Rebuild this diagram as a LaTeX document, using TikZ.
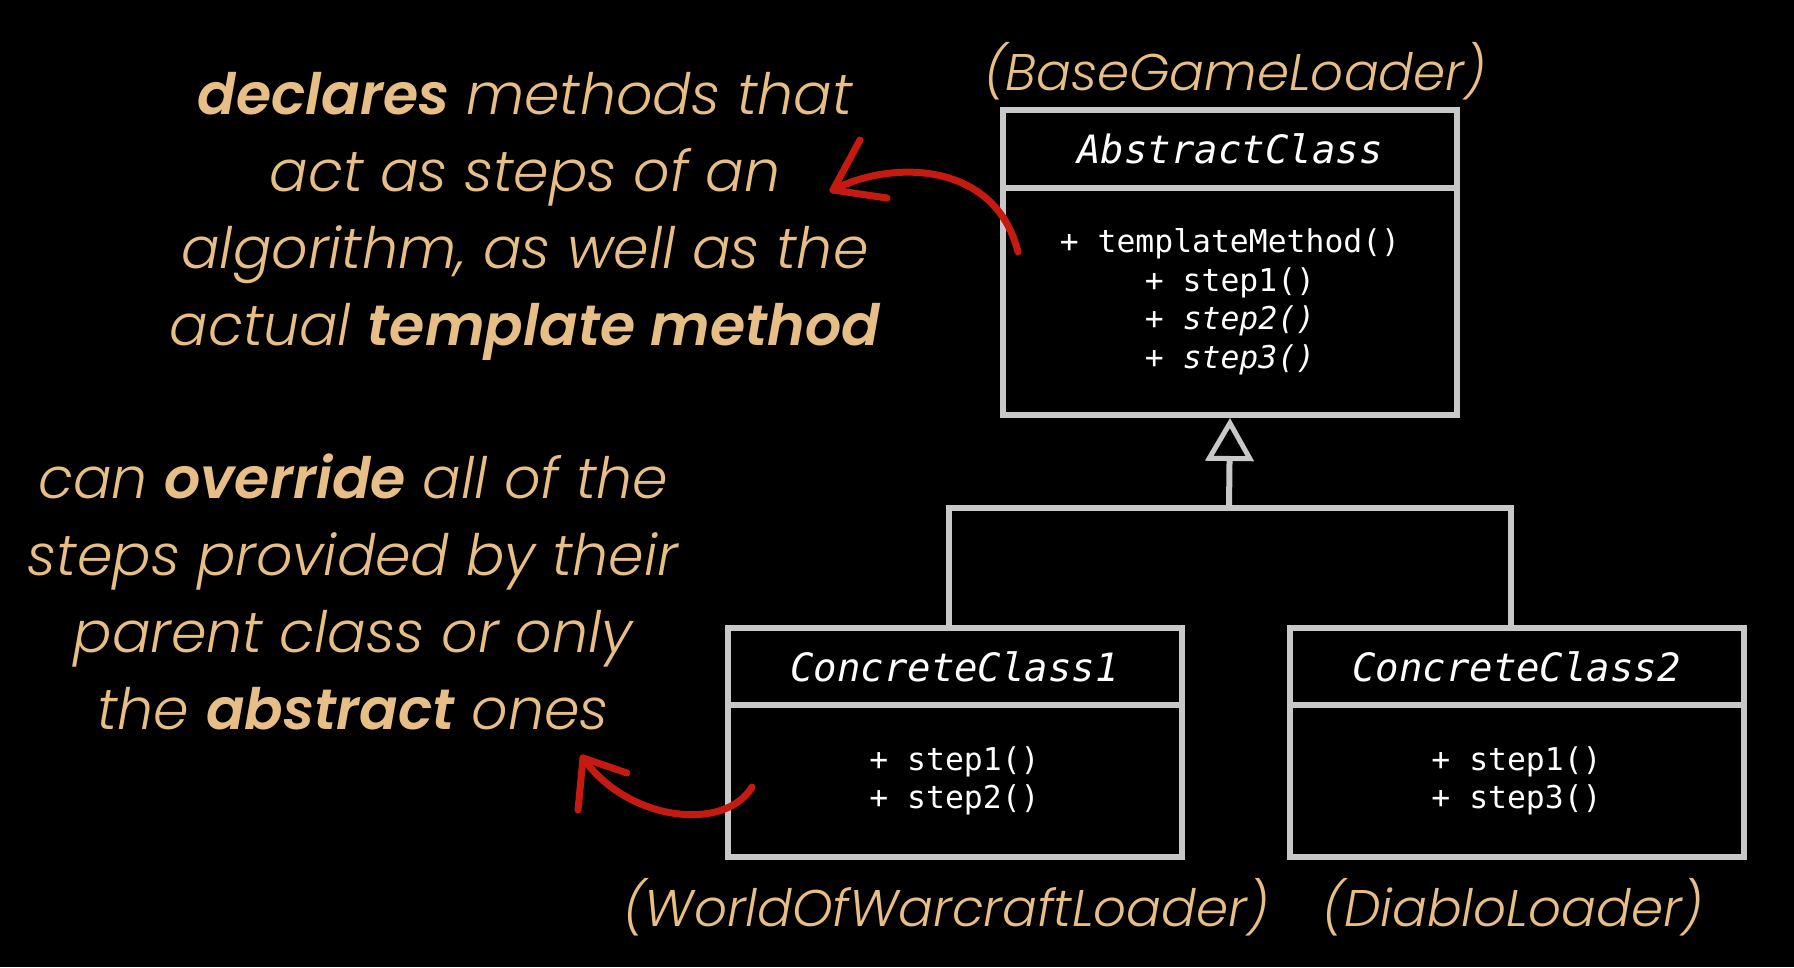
\documentclass[tikz,border=0pt]{standalone}
\usepackage{fontspec}
\usetikzlibrary{arrows.meta}
\newfontfamily\tanfont{Poppins}[UprightFont=* Light, ItalicFont=* Light Italic, BoldFont=* SemiBold, BoldItalicFont=* SemiBold Italic]
\newfontfamily\umlmono{DejaVu Sans Mono}
\definecolor{bgblack}{HTML}{000000}
\definecolor{umlgrey}{HTML}{C8C8C8}
\definecolor{tan}{HTML}{E8BE87}
\definecolor{pen}{HTML}{C41A10}
\begin{document}
\begin{tikzpicture}[x=1pt,y=-1pt,
  boxpart/.style={draw=umlgrey, line width=6pt, minimum width=454pt, inner sep=0pt, text=white},
  titlepart/.style={boxpart, font=\umlmono\itshape\fontsize{39}{39}\selectfont},
  bodypart/.style={boxpart, align=center, font=\umlmono\fontsize{31.4}{38.5}\selectfont},
  note/.style={text=tan, align=center, inner sep=0pt, font=\tanfont\itshape\fontsize{57}{77}\selectfont},
  label/.style={text=tan, inner sep=0pt, font=\tanfont\itshape\fontsize{51.5}{51.5}\selectfont},
  conn/.style={draw=umlgrey, line width=6pt},
  redpen/.style={draw=pen, line width=7pt, line cap=round, line join=round}]
\fill[bgblack] (0,0) rectangle (1794,967);
\useasboundingbox (0,0) rectangle (1794,967);

% Abstract class
\node[titlepart, minimum height=78pt] (abst) at (1230,149) {AbstractClass};
\node[bodypart, minimum height=227pt] (absb) at (1230,301.5)
  {+ templateMethod()\\+ step1()\\+ \textit{step2()}\\+ \textit{step3()}};

% Concrete classes
\node[titlepart, minimum height=77pt] (c1t) at (954.5,666.5) {ConcreteClass1};
\node[bodypart, minimum height=152pt] (c1b) at (954.5,781) {+ step1()\\+ step2()};
\node[titlepart, minimum height=77pt] (c2t) at (1516.5,666.5) {ConcreteClass2};
\node[bodypart, minimum height=152pt] (c2b) at (1516.5,781) {+ step1()\\+ step3()};

% Inheritance
\coordinate (joint) at (1229,508);
\coordinate (c1top) at ([xshift=-6pt]c1t.north);
\coordinate (c2top) at ([xshift=-6pt]c2t.north);
\draw[conn] (c1top) |- (joint) -| (c2top);
\draw[conn, -{Triangle[open, length=43pt, width=48pt, line width=5pt]}] (joint) -- (absb.south);

% Labels
\node[label] (lbase) at (1235,71) {(BaseGameLoader)};
\node[label] (lwow) at (946,907) {(WorldOfWarcraftLoader)};
\node[label] (ldia) at (1513,907) {(DiabloLoader)};

% Notes
\node[note] (n1) at (525,216) {\textbf{declares} methods that\\act as steps of an\\algorithm, as well as the\\actual \textbf{template method}};
\node[note] (n2) at (353,592) {can \textbf{override} all of the\\steps provided by their\\parent class or only\\the \textbf{abstract} ones};

% Red arrows
\coordinate (a1tail) at (1018,252);
\coordinate (a1tip) at (833,190);
\draw[redpen] (a1tail) .. controls (995,160) and (890,160) .. (a1tip);
\draw[redpen] (a1tip) -- ++(27,-50);
\draw[redpen] (a1tip) -- ++(54,8);
\coordinate (a2tail) at (752,787);
\coordinate (a2tip) at (583,758);
\draw[redpen] (a2tail) .. controls (725,832) and (628,822) .. (a2tip);
\draw[redpen] (a2tip) -- ++(-5,52);
\draw[redpen] (a2tip) -- ++(44,15);
\end{tikzpicture}
\end{document}
